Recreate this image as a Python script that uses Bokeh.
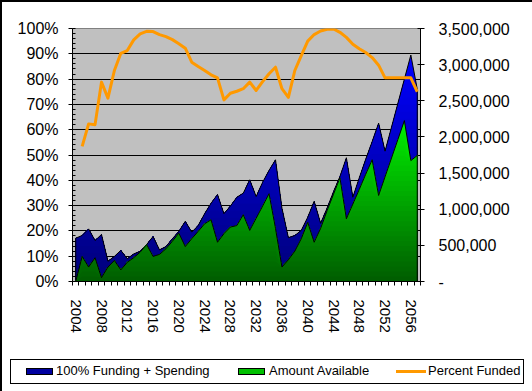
import numpy as np
from bokeh.plotting import figure
from bokeh.layouts import column
from bokeh.models import (Range1d, LinearAxis, FixedTicker, PrintfTickFormatter,
                          NumeralTickFormatter, Div)
from bokeh.embed import file_html
from bokeh.resources import INLINE

# ---------------- data ----------------
years = list(range(2004, 2058))

funding_plus_spending = [
    600000, 637000, 728000, 567000, 651000, 280000, 347000, 431000, 315000, 382000,
    417000, 511000, 623000, 438000, 483000, 592000, 693000, 833000, 683000, 774000,
    938000, 1082000, 1204000, 938000, 1043000, 1166000, 1222000, 1407000, 1176000, 1372000,
    1537000, 1684000, 1015000, 606000, 637000, 707000, 889000, 1110000, 805000, 1015000,
    1243000, 1453000, 1712000, 1166000, 1435000, 1691000, 1936000, 2191000, 1803000, 2135000,
    2468000, 2800000, 3133000, 2660000,
]

amount_available = [
    0, 347000, 200000, 329000, 53000, 200000, 291000, 161000, 266000, 329000,
    406000, 511000, 347000, 375000, 452000, 557000, 669000, 483000, 592000, 693000,
    798000, 854000, 543000, 662000, 753000, 774000, 924000, 707000, 875000, 1043000,
    1215000, 735000, 200000, 301000, 420000, 592000, 819000, 543000, 735000, 980000,
    1208000, 1435000, 868000, 1071000, 1274000, 1484000, 1684000, 1190000, 1449000, 1708000,
    1967000, 2226000, 1673000, 1743000,
]

percent_funded = [
    float("nan"), 53.4, 62.3, 62.0, 78.8, 72.5, 83.4, 90.2, 91.3, 95.5,
    97.9, 98.9, 98.8, 97.6, 96.8, 95.6, 94.0, 92.2, 86.7, 85.0,
    83.4, 81.7, 80.5, 71.8, 74.4, 75.2, 76.2, 78.8, 75.5, 79.0,
    82.1, 84.7, 76.2, 72.8, 83.4, 89.3, 95.0, 97.6, 99.0, 99.7,
    99.8, 98.5, 96.5, 93.8, 92.0, 90.5, 88.5, 85.5, 80.5, 80.5,
    80.5, 80.5, 80.5, 75.0,
]

x_tick_labels = list(range(2004, 2058, 4))
pct_ticks = list(range(0, 101, 10))
dollar_ticks = list(range(0, 3500001, 500000))
legend_labels = ["100% Funding + Spending", "Amount Available", "Percent Funded"]

FONT = "Liberation Sans"
BLUE_SWATCH, GREEN_SWATCH, ORANGE = "#0000A0", "#00C000", "#FF9900"


def lerp_color(c0, c1, t):
    r = int(round(c0[0] + (c1[0] - c0[0]) * t))
    g = int(round(c0[1] + (c1[1] - c0[1]) * t))
    b = int(round(c0[2] + (c1[2] - c0[2]) * t))
    return "#%02x%02x%02x" % (r, g, b)


# ---------------- figure ----------------
p = figure(width=532, height=340, output_backend="svg", toolbar_location=None,
           x_range=Range1d(2003.5, 2057.5), y_range=Range1d(0, 100),
           min_border_left=72, min_border_right=112, min_border_top=28,
           min_border_bottom=59,
           background_fill_color="#C0C0C0", border_fill_alpha=0,
           outline_line_color="#808080", outline_line_width=1)
p.extra_y_ranges = {"usd": Range1d(0, 3500000)}

p.xgrid.visible = False
p.ygrid.ticker = FixedTicker(ticks=pct_ticks[1:-1])
p.ygrid.grid_line_color = "black"
p.ygrid.grid_line_width = 1

# x axis
xa = p.xaxis[0]
xa.ticker = FixedTicker(ticks=x_tick_labels,
                        minor_ticks=[y - 0.5 for y in years] + [years[-1] + 0.5])
xa.major_label_orientation = "vertical"
xa.major_tick_out = 0
xa.major_tick_in = 0
xa.minor_tick_out = 4
xa.minor_tick_in = 0
xa.minor_tick_line_color = "black"
xa.axis_line_color = "black"
xa.major_label_standoff = 14
xa.major_label_text_font = FONT
xa.major_label_text_font_size = "15px"
xa.major_label_text_color = "black"

# left axis
ya = p.yaxis[0]
ya.ticker = FixedTicker(ticks=pct_ticks, minor_ticks=list(range(0, 101, 2)))
ya.formatter = PrintfTickFormatter(format="%d%%")
ya.major_tick_out = 4
ya.major_tick_in = 0
ya.minor_tick_in = 3
ya.minor_tick_out = 0
ya.major_tick_line_color = "black"
ya.minor_tick_line_color = "black"
ya.axis_line_color = "black"
ya.major_label_standoff = 10
ya.major_label_text_font = FONT
ya.major_label_text_font_size = "16px"
ya.major_label_text_color = "black"

# right axis
ra = LinearAxis(y_range_name="usd", ticker=FixedTicker(ticks=dollar_ticks),
                formatter=NumeralTickFormatter(format="0,0"),
                major_label_overrides={0: "-"})
ra.minor_tick_line_color = None
ra.major_tick_in = 3
ra.major_tick_out = 4
ra.major_tick_line_color = "black"
ra.axis_line_color = "black"
ra.major_label_standoff = 14
ra.major_label_text_font = FONT
ra.major_label_text_font_size = "16px"
ra.major_label_text_color = "black"
p.add_layout(ra, "right")

# ---------------- areas (layered vertical gradient) ----------------
N = 32
fs = np.array(funding_plus_spending, dtype=float)
aa = np.array(amount_available, dtype=float)

blue_bottom, blue_top = (0, 0, 120), (0, 0, 255)
fs_max = fs.max()
for k in range(N, 0, -1):
    cap = fs_max * k / N
    col = lerp_color(blue_bottom, blue_top, (k - 0.5) / N)
    p.varea(x=years, y1=0, y2=np.minimum(fs, cap), fill_color=col,
            y_range_name="usd")
p.line(x=[years[0]] + years + [years[-1]], y=[0] + list(fs) + [0],
       line_color="black", line_width=1, y_range_name="usd")

green_bottom, green_top = (0, 92, 0), (0, 240, 0)
aa_max = aa.max()
for k in range(N, 0, -1):
    cap = aa_max * k / N
    col = lerp_color(green_bottom, green_top, (k - 0.5) / N)
    p.varea(x=years, y1=0, y2=np.minimum(aa, cap), fill_color=col,
            y_range_name="usd")
p.line(x=[years[0]] + years + [years[-1]], y=[0] + list(aa) + [0],
       line_color="black", line_width=1, y_range_name="usd")

# percent funded line
p.line(x=years, y=percent_funded, line_color=ORANGE, line_width=3,
       line_join="round")

# ---------------- legend strip ----------------
def swatch(left, color, border=True, top=23, h=7, w=27):
    b = "border:1px solid black;" if border else ""
    return ('<div style="position:absolute;box-sizing:border-box;left:%dpx;top:%dpx;'
            'width:%dpx;height:%dpx;background:%s;%s"></div>' % (left, top, w, h, color, b))


def label(left, text):
    return ('<div style="position:absolute;left:%dpx;top:17px;height:18px;line-height:18px;'
            'white-space:nowrap;">%s</div>' % (left, text))


legend_html = (
    '<div style="position:relative;width:532px;height:51px;font-family:\'%s\';'
    'font-size:13px;color:black;">' % FONT
    + '<div style="position:absolute;box-sizing:border-box;left:5px;top:14px;'
      'width:514px;height:25px;border:1px solid black;background:white;"></div>'
    + swatch(21, BLUE_SWATCH) + label(51, legend_labels[0])
    + swatch(233, GREEN_SWATCH) + label(264, legend_labels[1])
    + swatch(391, ORANGE, border=False, top=25, h=3, w=30) + label(423, legend_labels[2])
    + '</div>'
)
legend_div = Div(text=legend_html, width=532, height=51)

layout = column(p, legend_div, spacing=0,
                styles={"outline": "2px solid black", "outline-offset": "-2px",
                        "background-color": "white"})

open("out.html", "w").write(file_html(layout, INLINE))
